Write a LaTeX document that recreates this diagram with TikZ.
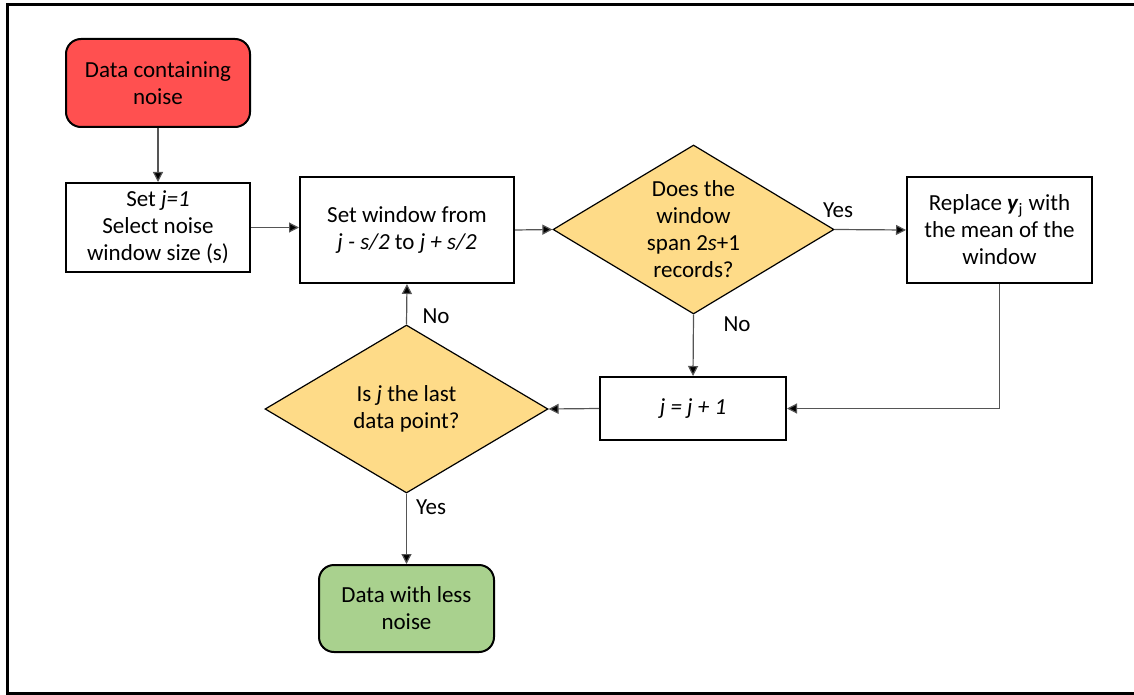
\documentclass[tikz,border=0pt]{standalone}
\usepackage{fontspec}
\setmainfont{Carlito}
\usetikzlibrary{shapes.geometric,arrows.meta}

\definecolor{startred}{HTML}{FF5050}
\definecolor{endgreen}{HTML}{A9D18E}
\definecolor{decfill}{HTML}{FEDB88}
\definecolor{linegray}{HTML}{555555}

\begin{document}
\begin{tikzpicture}[x=0.5pt,y=-0.5pt,
  txt/.style={font=\fontsize{11.5}{13.5}\selectfont, align=center},
  procbox/.style={txt, draw=black, line width=1pt, rectangle, inner sep=0pt},
  termbox/.style={txt, draw=black, line width=1pt, rounded corners=7.5pt, inner sep=0pt},
  decision/.style={txt, draw=black, line width=0.6pt, diamond, fill=decfill,
    inner sep=0pt, aspect=1.66, minimum width=140.5pt, minimum height=84.5pt},
  flow/.style={draw=linegray, line width=0.6pt, -{Triangle[length=5pt,width=5pt,fill=black]}},
  lbl/.style={txt, inner sep=0pt}
]
\useasboundingbox (0,0) rectangle (1134,695);

% outer frame (open on the right)
\draw[line width=1.5pt, black] (1140,5) -- (7.5,5) -- (7.5,693.5) -- (1140,693.5);

% nodes
\node[termbox, fill=startred, minimum width=92pt, minimum height=44pt] (start) at (158,83) {Data containing\\noise};
\node[procbox, minimum width=92pt, minimum height=44.5pt] (init) at (158,227.5) {Set \textit{j=1}\\Select noise\\window size (s)};
\node[procbox, minimum width=107pt, minimum height=53pt] (win) at (407,230) {Set window from\\\textit{j - s/2} to \textit{j + s/2}};
\node[decision] (span) at (693.5,229.5) {Does the\\window\\span 2\textit{s}+1\\records?};
\node[procbox, minimum width=92.5pt, minimum height=53pt] (repl) at (999.5,230) {Replace \textbf{\textit{y}}\textsubscript{j} with\\the mean of the\\window};
\node[procbox, minimum width=93pt, minimum height=31.5pt] (inc) at (693,408.5) {\textit{j = j + 1}};
\node[decision, minimum width=141.5pt, minimum height=84pt] (last) at (406.5,409) {Is \textit{j} the last\\data point?};
\node[termbox, fill=endgreen, minimum width=87.5pt, minimum height=43.5pt] (finish) at (406.5,608.5) {Data with less\\noise};

% branch labels
\node[lbl] (yes1) at (838,210) {Yes};
\node[lbl] (no1) at (737,324) {No};
\node[lbl] (no2) at (436,316) {No};
\node[lbl] (yes2) at (431,507) {Yes};

% connectors
\draw[flow] (start) -- (init);
\draw[flow] (init.east) -- (win.west |- init.east);
\draw[flow] (win.east) -- (span.west);
\draw[flow] (span.east) -- (repl.west);
\draw[flow] (span.south) -- (inc.north);
\draw[flow] (repl.south) |- (inc.east);
\draw[flow] (inc.west) -- (last.east);
\draw[flow] (last.north) -- (win.south);
\draw[flow] (last.south) -- (finish.north);
\end{tikzpicture}
\end{document}
